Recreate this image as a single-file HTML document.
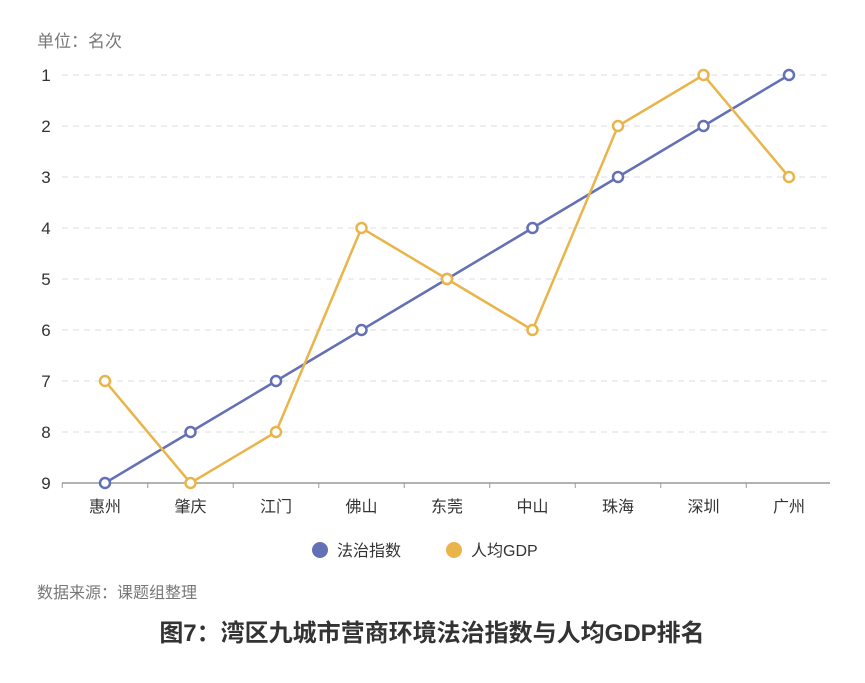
<!DOCTYPE html>
<html><head><meta charset="utf-8"><style>
body{margin:0;background:#fff;width:865px;height:678px;overflow:hidden;font-family:"Liberation Sans","Noto Sans CJK SC",sans-serif}
</style></head><body>
<svg width="865" height="678" id="chart">
<text x="37" y="47" font-size="17" fill="#777" font-family="Liberation Sans, Noto Sans CJK SC, sans-serif">单位：名次</text>
<g id="grid"></g><g id="series"></g>
<g font-size="16" fill="#333" font-family="Liberation Sans, Noto Sans CJK SC, sans-serif">
<circle cx="320" cy="550" r="8" fill="#6470b5"/>
<text x="337" y="556">法治指数</text>
<circle cx="454" cy="550" r="8" fill="#e9b54a"/>
<text x="471" y="556">人均GDP</text>
</g>
<text x="37" y="598" font-size="16" fill="#777" font-family="Liberation Sans, Noto Sans CJK SC, sans-serif">数据来源：课题组整理</text>
<text x="432" y="641" font-size="24" font-weight="bold" fill="#333" text-anchor="middle" font-family="Liberation Sans, Noto Sans CJK SC, sans-serif">图7：湾区九城市营商环境法治指数与人均GDP排名</text>
</svg>
<script>
const categories=["惠州","肇庆","江门","佛山","东莞","中山","珠海","深圳","广州"];
const lawRank=[9,8,7,6,5,4,3,2,1];
const gdpRank=[7,9,8,4,5,6,2,1,3];
const yTicks=[1,2,3,4,5,6,7,8,9];
const NS="http://www.w3.org/2000/svg";
const x=i=>105+i*85.5, y=r=>75+(r-1)*51;
const grid=document.getElementById('grid'), ser=document.getElementById('series');
function mk(tag,attrs,parent){const e=document.createElementNS(NS,tag);for(const k in attrs)e.setAttribute(k,attrs[k]);parent.appendChild(e);return e;}
yTicks.forEach(t=>{
  if(t!==9){const l=mk('line',{x1:62,x2:830,y1:y(t),y2:y(t),stroke:'#ddd','stroke-dasharray':'6,5'},grid);
  
  }
  const tx=mk('text',{x:46,y:y(t)+6,'font-size':17,fill:'#333','text-anchor':'middle'},grid);tx.textContent=t;
  
  
});
const ax=mk('line',{x1:62,x2:830,y1:483,y2:483,stroke:'#999','stroke-width':1.5},grid);


categories.forEach((c,i)=>{
  const tk=mk('line',{x1:x(i)-42.75,x2:x(i)-42.75,y1:483,y2:488,stroke:'#999'},grid);
  
  
  const tx=mk('text',{x:x(i),y:512,'font-size':16,fill:'#333','text-anchor':'middle'},grid);tx.textContent=c;
  
  
});
function drawSeries(data,color,name){
  const p=mk('polyline',{points:data.map((v,i)=>x(i)+','+y(v)).join(' '),fill:'none',stroke:color,'stroke-width':2.5},ser);
  
  
  data.forEach((v,i)=>{const c=mk('circle',{cx:x(i),cy:y(v),r:5,fill:'#fff',stroke:color,'stroke-width':2.5},ser);
  
  });
}
drawSeries(lawRank,'#6470b5','law-index');
drawSeries(gdpRank,'#e9b54a','gdp-rank');
</script>
</body></html>
